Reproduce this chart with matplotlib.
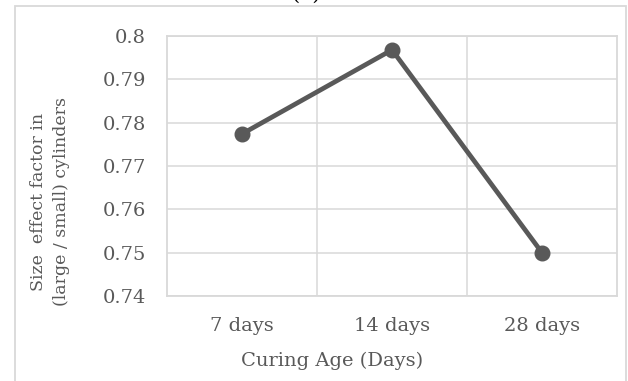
import matplotlib.pyplot as plt
from matplotlib.patches import Rectangle

# size effect factor per curing age
ages = ['7 days', '14 days', '28 days']
factor = [0.7774, 0.7968, 0.7500]
yticks = [0.74, 0.75, 0.76, 0.77, 0.78, 0.79, 0.80]
ytick_labels = ['0.74', '0.75', '0.76', '0.77', '0.78', '0.79', '0.8']

W, H = 628, 381
grey = '#595959'
grid = '#d9d9d9'

plt.rcParams['font.family'] = ['DejaVu Serif']

fig = plt.figure(figsize=(W / 100, H / 100), dpi=100)

# chart frame, runs off the bottom of the image
fig.patches.append(Rectangle((15 / W, -0.1), 611 / W, 1.1 - 6 / H,
                             transform=fig.transFigure, fill=False,
                             edgecolor=grid, lw=1.3))
fig.text(306 / W, 1 + 6 / H, '(b)', ha='center', va='center',
         fontsize=15, color='black')

ax = fig.add_axes([167 / W, 85 / H, 450 / W, 260 / H])
x = range(len(ages))
ax.plot(x, factor, color=grey, lw=3.4, marker='o', ms=10.5,
        solid_capstyle='round')
ax.set_xlim(-0.5, 2.5)
ax.set_ylim(0.74, 0.80)
ax.set_xticks(list(x))
ax.set_xticklabels(ages)
ax.set_yticks(yticks)
ax.set_yticklabels(ytick_labels)
ax.set_xticks([0.5, 1.5], minor=True)
ax.grid(True, which='major', axis='y', color=grid, lw=1.1)
ax.grid(True, which='minor', axis='x', color=grid, lw=1.1)
ax.set_axisbelow(True)
for s in ax.spines.values():
    s.set_color(grid)
    s.set_linewidth(1.3)
ax.tick_params(which='both', length=0, labelsize=14, colors=grey)
ax.tick_params(axis='y', pad=15)
ax.tick_params(axis='x', pad=15)

fig.text(332 / W, 1 - 361 / H, 'Curing Age (Days)', ha='center', va='center',
         fontsize=14, color=grey)
fig.text(50 / W, 1 - 202 / H, 'Size  effect factor in\n(large / small) cylinders',
         ha='center', va='center', rotation=90, multialignment='center',
         fontsize=12.5, color=grey, linespacing=1.45)

fig.savefig('out.png', dpi=100)
